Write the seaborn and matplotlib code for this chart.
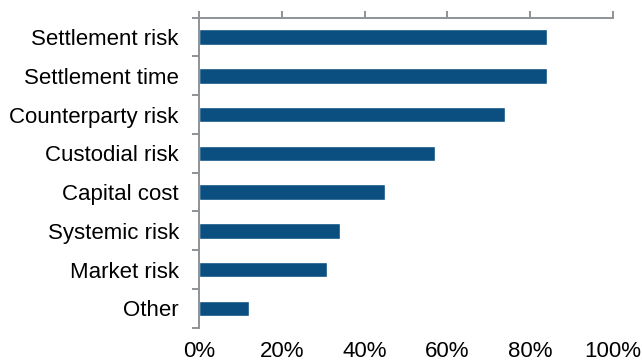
import matplotlib
matplotlib.use("Agg")
import matplotlib.pyplot as plt
from matplotlib.ticker import FixedLocator, PercentFormatter
import seaborn as sns
import pandas as pd

categories = ["Settlement risk", "Settlement time", "Counterparty risk",
              "Custodial risk", "Capital cost", "Systemic risk",
              "Market risk", "Other"]
shares = [84, 84, 74, 57, 45, 34, 31, 12]
x_ticks = [0, 20, 40, 60, 80, 100]

df = pd.DataFrame({"category": categories, "share": shares})

sns.set_theme(style="white")
plt.rcParams["font.family"] = ["Liberation Sans", "DejaVu Sans"]

bar_color = "#0B4F80"
axis_color = "#8E9296"
label_size = 16

fig = plt.figure(figsize=(6.42, 3.63), dpi=100)
ax = fig.add_axes([199 / 642, 1 - 327.7 / 363, 414 / 642, 310 / 363])

sns.barplot(data=df, x="share", y="category", orient="h", color=bar_color,
            width=0.4, saturation=1, ax=ax)

ax.set_xlim(0, 100)
ax.set_ylim(len(categories) - 0.5, -0.5)
ax.set_xlabel("")
ax.set_ylabel("")

ax.xaxis.set_major_locator(FixedLocator(x_ticks))
ax.xaxis.set_major_formatter(PercentFormatter(decimals=0))
ax.tick_params(axis="x", top=True, bottom=False, labeltop=False,
               labelbottom=True, direction="out", length=5, width=1.4,
               color=axis_color, labelsize=label_size, labelcolor="black", pad=4.5)

# category labels without ticks; boundary ticks between categories
ax.yaxis.set_minor_locator(FixedLocator([i - 0.5 for i in range(len(categories) + 1)]))
ax.tick_params(axis="y", which="major", left=True, length=0,
               labelsize=label_size, labelcolor="black", pad=14.5)
ax.tick_params(axis="y", which="minor", left=True, length=5, width=1.4,
               color=axis_color, direction="out")

for side in ["right", "bottom"]:
    ax.spines[side].set_visible(False)
for side in ["left", "top"]:
    ax.spines[side].set_visible(True)
    ax.spines[side].set_color(axis_color)
    ax.spines[side].set_linewidth(1.4)

fig.savefig("out.png", dpi=100)
